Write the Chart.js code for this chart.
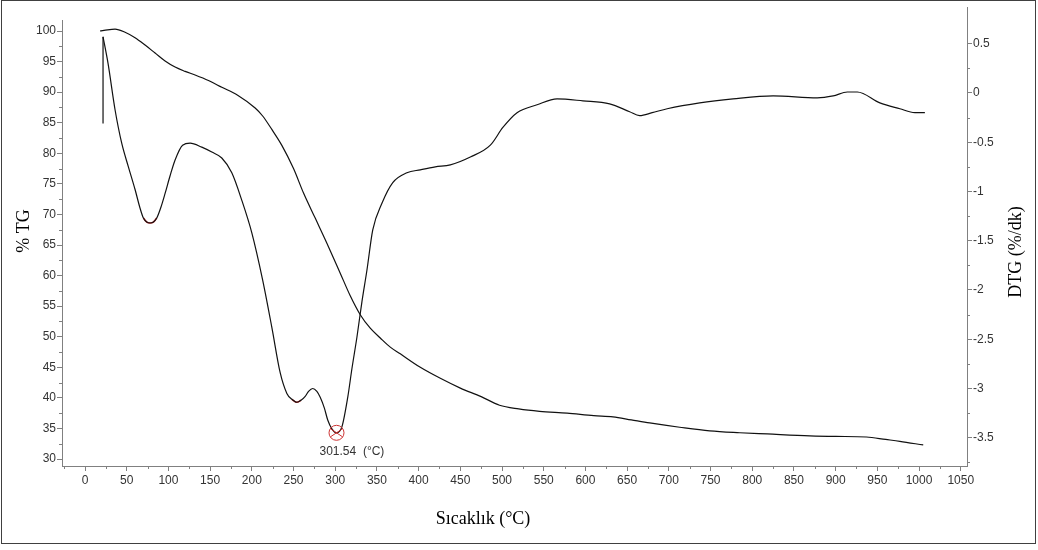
<!DOCTYPE html>
<html>
<head>
<meta charset="utf-8">
<script src="https://cdn.jsdelivr.net/npm/chart.js@4.4.1/dist/chart.umd.min.js"></script>
<style>
  html, body { margin: 0; padding: 0; background: #fff; }
  #wrap { width: 1038px; height: 550px; }
</style>
</head>
<body>
<div id="wrap"><canvas id="tga" width="1038" height="550"></canvas></div>
<script>
// TG eğrisi: sıcaklık (°C) ve kalan kütle (%)
const tgTemp = [18, 27, 36, 48, 60, 72, 84, 96, 108, 120, 132, 148, 164, 183, 204, 213, 224, 236, 250, 262,
  276, 290, 306, 318, 330, 342, 354, 366, 378, 402, 426, 450, 475, 497, 520, 545, 578, 610, 633, 655,
  677, 713, 749, 785, 818, 869, 900, 937, 960, 977, 1005];
const tgValues = [100.0, 100.2, 100.3, 99.8, 98.9, 97.7, 96.4, 95.1, 94.1, 93.4, 92.8, 91.9, 90.8, 89.5, 87.4, 86.1, 83.9, 81.3, 77.5, 73.5,
  69.4, 65.3, 60.4, 56.7, 53.6, 51.4, 49.8, 48.3, 47.2, 45.0, 43.2, 41.6, 40.2, 38.8, 38.2, 37.8, 37.5, 37.1, 36.9, 36.4,
  35.9, 35.2, 34.6, 34.3, 34.1, 33.8, 33.7, 33.6, 33.2, 32.9, 32.3];

// DTG eğrisi: sıcaklık (°C) ve kütle kaybı hızı (%/dk)
const dtgTemp = [21.6, 27.6, 36, 44, 52, 60, 66, 70, 74, 78, 82, 86, 91, 96, 102, 108, 117, 126, 140, 152,
  164, 176, 188, 200, 213, 224, 234, 242, 248, 254, 259, 264, 268, 273, 278, 282, 287, 291, 296, 301.5,
  308, 315, 320, 326, 332, 338, 345, 356, 369, 386, 402, 420, 438, 462, 486, 501, 518, 542, 566, 597,
  629, 653, 665, 680, 698, 737, 777, 825, 878, 897, 914, 926, 953, 977, 995, 1007];
const dtgValues = [0.57, 0.30, -0.17, -0.51, -0.75, -0.98, -1.17, -1.27, -1.31, -1.32, -1.31, -1.27, -1.16, -1.02, -0.84, -0.68, -0.53, -0.51, -0.55, -0.60,
  -0.66, -0.81, -1.09, -1.42, -1.90, -2.38, -2.84, -3.05, -3.11, -3.14, -3.12, -3.08, -3.03, -3.00, -3.03, -3.09, -3.20, -3.32, -3.41, -3.45,
  -3.39, -3.09, -2.80, -2.48, -2.12, -1.80, -1.39, -1.12, -0.91, -0.81, -0.78, -0.75, -0.73, -0.65, -0.53, -0.35, -0.20, -0.12, -0.06, -0.08,
  -0.11, -0.19, -0.23, -0.20, -0.16, -0.10, -0.06, -0.03, -0.05, -0.03, 0.01, 0.01, -0.10, -0.16, -0.20, -0.20];

// başlangıçtaki dikey DTG sıçraması
const spikeTemp = [21.6, 21.6];
const spikeValues = [-0.31, 0.57];

// işaretli tepe ve kırmızı gösterilen minimum bölgeleri
const peakTemp = 301.54;
const peakValue = -3.45;
const peakLabel = '301.54  (°C)';
const minimaRanges = [[68, 88], [246, 262]];

// eksen aralıkları ve başlıklar
const tempRange = [-27.6, 1057.5];
const tgRange = [28.86, 101.8];
const dtgRange = [-3.787, 0.741];
const xTitle = 'Sıcaklık (°C)';
const tgTitle = '% TG';
const dtgTitle = 'DTG (%/dk)';

const toPoints = (xs, ys) => xs.map((x, i) => ({ x: x, y: ys[i] }));
const tgPoints = toPoints(tgTemp, tgValues);
const dtgPoints = toPoints(dtgTemp, dtgValues);
const spikePoints = toPoints(spikeTemp, spikeValues);
const minimaSets = minimaRanges.map(([a, b]) => dtgPoints.filter(p => p.x >= a && p.x <= b));

const axisColor = '#808080';
const tickFont = { family: '"Liberation Sans", Arial, sans-serif', size: 12 };
const titleFont = '18px "Liberation Serif", "Times New Roman", serif';
const plainNumber = v => String(Math.round(v * 100) / 100);

const lineStyle = {
  borderColor: '#111',
  borderWidth: 1.2,
  pointRadius: 0,
  cubicInterpolationMode: 'monotone',
  fill: false
};

// ara çentikler, çerçeve, eksen başlıkları ve tepe işareti
const decor = {
  id: 'decor',
  afterDraw(chart) {
    const { ctx, chartArea } = chart;
    const sx = chart.scales.x, sl = chart.scales.yTG, sr = chart.scales.yDTG;
    ctx.save();
    ctx.strokeStyle = axisColor;
    ctx.lineWidth = 1;
    ctx.beginPath();
    for (let v = -25; v <= sx.max; v += 50) {
      const px = Math.round(sx.getPixelForValue(v)) + 0.5;
      if (px < chartArea.left || px > chartArea.right) continue;
      ctx.moveTo(px, chartArea.bottom); ctx.lineTo(px, chartArea.bottom + 3);
    }
    for (let v = 27.5; v <= sl.max; v += 5) {
      if (v < sl.min) continue;
      const py = Math.round(sl.getPixelForValue(v)) + 0.5;
      ctx.moveTo(chartArea.left, py); ctx.lineTo(chartArea.left - 3, py);
    }
    for (let v = -3.75; v <= sr.max; v += 0.5) {
      if (v < sr.min) continue;
      const py = Math.round(sr.getPixelForValue(v)) + 0.5;
      ctx.moveTo(chartArea.right, py); ctx.lineTo(chartArea.right + 3, py);
    }
    // sağ eksen çizgisi biraz yukarı uzanıyor
    const rx = Math.round(chartArea.right) + 0.5;
    ctx.moveTo(rx, chartArea.top - 13); ctx.lineTo(rx, chartArea.top);
    ctx.stroke();

    // dış çerçeve
    ctx.strokeStyle = '#404040';
    ctx.strokeRect(1.5, 0.5, 1034, 543);

    // eksen başlıkları
    ctx.fillStyle = '#000';
    ctx.font = titleFont;
    ctx.textAlign = 'center';
    ctx.textBaseline = 'middle';
    ctx.fillText(xTitle, 483, 519);
    ctx.save();
    ctx.translate(24, 231);
    ctx.rotate(-Math.PI / 2);
    ctx.fillText(tgTitle, 0, 0);
    ctx.restore();
    ctx.save();
    ctx.translate(1016, 252);
    ctx.rotate(-Math.PI / 2);
    ctx.fillText(dtgTitle, 0, 0);
    ctx.restore();

    // tepe işareti
    const cx = sx.getPixelForValue(peakTemp);
    const cy = sr.getPixelForValue(peakValue);
    ctx.strokeStyle = '#cc3333';
    ctx.lineWidth = 1;
    ctx.beginPath();
    ctx.arc(cx, cy, 7.5, 0, Math.PI * 2);
    ctx.moveTo(cx - 6, cy - 4); ctx.lineTo(cx + 6, cy + 4);
    ctx.moveTo(cx - 6, cy + 4); ctx.lineTo(cx + 6, cy - 4);
    ctx.stroke();
    ctx.fillStyle = '#333';
    ctx.font = '12px "Liberation Sans", Arial, sans-serif';
    ctx.textAlign = 'left';
    ctx.fillText(peakLabel, cx - 17, cy + 19);
    ctx.restore();
  }
};

new Chart(document.getElementById('tga'), {
  type: 'line',
  data: {
    datasets: [
      Object.assign({ label: 'TG', data: tgPoints, yAxisID: 'yTG' }, lineStyle),
      Object.assign({ label: 'DTG', data: dtgPoints, yAxisID: 'yDTG' }, lineStyle),
      Object.assign({ label: 'DTG başlangıç', data: spikePoints, yAxisID: 'yDTG' }, lineStyle,
        { cubicInterpolationMode: 'default', tension: 0 }),
      ...minimaSets.map((pts, i) => Object.assign({ label: 'min ' + (i + 1), data: pts, yAxisID: 'yDTG' },
        lineStyle, { borderColor: '#d03030', borderWidth: 1.6 }))
    ]
  },
  options: {
    responsive: false,
    devicePixelRatio: 1,
    animation: false,
    events: [],
    layout: { padding: { top: 20, left: 0, right: 0, bottom: 0 } },
    plugins: { legend: { display: false }, tooltip: { enabled: false } },
    scales: {
      x: {
        type: 'linear',
        min: tempRange[0],
        max: tempRange[1],
        afterFit: s => { s.height = 84; },
        border: { color: axisColor, width: 1 },
        grid: { drawOnChartArea: false, tickLength: 5, tickColor: axisColor },
        ticks: { stepSize: 50, includeBounds: false, maxRotation: 0, autoSkip: false, padding: 2,
          color: '#333', font: tickFont, callback: plainNumber }
      },
      yTG: {
        type: 'linear',
        position: 'left',
        min: tgRange[0],
        max: tgRange[1],
        afterFit: s => { s.width = 62; },
        border: { color: axisColor, width: 1 },
        grid: { drawOnChartArea: false, tickLength: 5, tickColor: axisColor },
        ticks: { stepSize: 5, includeBounds: false, autoSkip: false, padding: 1,
          color: '#333', font: tickFont, callback: plainNumber }
      },
      yDTG: {
        type: 'linear',
        position: 'right',
        min: dtgRange[0],
        max: dtgRange[1],
        afterFit: s => { s.width = 71; },
        border: { color: axisColor, width: 1 },
        grid: { drawOnChartArea: false, tickLength: 5, tickColor: axisColor },
        ticks: { stepSize: 0.5, includeBounds: false, autoSkip: false, padding: 1,
          color: '#333', font: tickFont, callback: plainNumber }
      }
    }
  },
  plugins: [decor]
});
</script>
</body>
</html>
